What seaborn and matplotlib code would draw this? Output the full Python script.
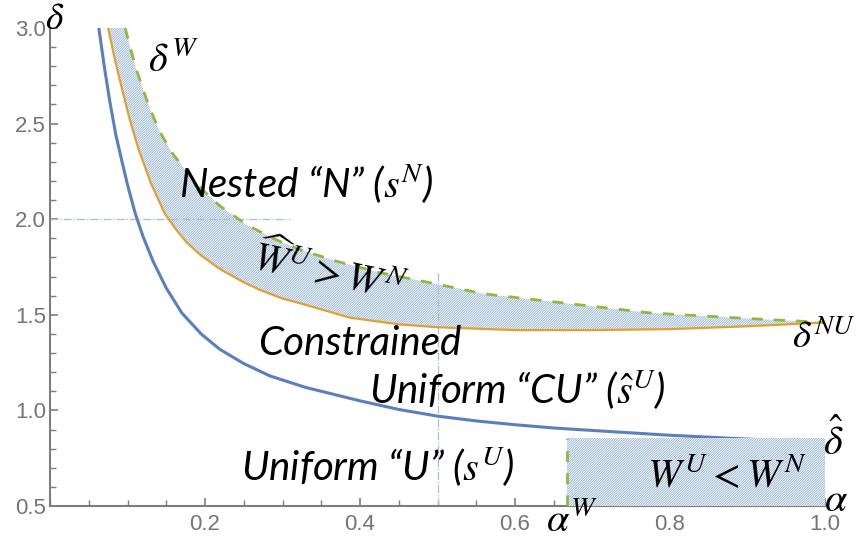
import numpy as np
import pandas as pd
import matplotlib
matplotlib.use("Agg")
import matplotlib.pyplot as plt
import seaborn as sns
from matplotlib.ticker import MultipleLocator, FixedFormatter

# ---------------- data ----------------
blue_alpha = [0.063, 0.070, 0.077, 0.085, 0.093, 0.100, 0.110, 0.120, 0.133, 0.150, 0.170,
              0.195, 0.219, 0.25, 0.284, 0.33, 0.40, 0.45, 0.50, 0.55, 0.60, 0.65, 0.70,
              0.80, 0.90, 1.00]
blue_delta = [3.00, 2.80, 2.62, 2.44, 2.30, 2.18, 2.03, 1.91, 1.78, 1.64, 1.51,
              1.40, 1.32, 1.245, 1.18, 1.12, 1.05, 1.005, 0.97, 0.945, 0.925, 0.908, 0.895,
              0.87, 0.85, 0.83]

orange_alpha = [0.075, 0.084, 0.093, 0.103, 0.114, 0.130, 0.148, 0.162, 0.176, 0.195, 0.219,
                0.25, 0.271, 0.30, 0.323, 0.387, 0.45, 0.50, 0.60, 0.70, 0.80, 0.90, 1.00]
orange_delta = [3.00, 2.83, 2.68, 2.52, 2.37, 2.19, 2.03, 1.95, 1.88, 1.81, 1.74,
                1.67, 1.63, 1.585, 1.56, 1.485, 1.45, 1.435, 1.42, 1.42, 1.425, 1.44, 1.46]

green_alpha = [0.097, 0.110, 0.126, 0.140, 0.157, 0.174, 0.195, 0.219, 0.254, 0.293, 0.323,
               0.37, 0.426, 0.50, 0.559, 0.645, 0.774, 0.903, 1.00]
green_delta = [3.00, 2.80, 2.61, 2.47, 2.35, 2.26, 2.16, 2.07, 1.97, 1.89, 1.84,
               1.78, 1.72, 1.66, 1.61, 1.57, 1.51, 1.48, 1.46]

alpha_W = 0.667          # vertical boundary alpha^W
delta_hat = 0.855        # top of the W^U < W^N region
guide_h = {"delta": 2.0, "alpha_from": 0.0, "alpha_to": 0.31}
guide_v = {"alpha": 0.5, "delta_from": 0.5, "delta_to": 1.72}

x_ticks = [0.2, 0.4, 0.6, 0.8, 1.0]
y_ticks = [0.5, 1.0, 1.5, 2.0, 2.5, 3.0]
x_tick_labels = ["0.2", "0.4", "0.6", "0.8", "1.0"]
y_tick_labels = ["0.5", "1.0", "1.5", "2.0", "2.5", "3.0"]

# ---------------- style ----------------
sns.set_theme(style="white")
plt.rcParams["font.family"] = ["Lato", "DejaVu Sans"]
plt.rcParams["mathtext.fontset"] = "stix"
plt.rcParams["hatch.linewidth"] = 0.6
plt.rcParams["xtick.labelsize"] = 16
plt.rcParams["ytick.labelsize"] = 16

BLUE = "#5b7fbd"
ORANGE = "#e3a030"
GREEN = "#93b83c"
HATCH = "#93b2d4"
GUIDE = "#a9bcdb"
AXC = "#7d7d7d"
TICKC = "#74747f"

fig = plt.figure(figsize=(8.59, 5.42), dpi=100)
ax = fig.add_axes([50 / 859, 36 / 542, 775 / 859, 478 / 542])

# hatched region between orange and green curves
poly_x = np.concatenate([orange_alpha, green_alpha[::-1]])
poly_y = np.concatenate([orange_delta, green_delta[::-1]])
ax.fill(poly_x, poly_y, facecolor="white", edgecolor=HATCH, hatch="/" * 14,
        linewidth=0, zorder=1)

# guide dash-dot lines
ax.plot([guide_h["alpha_from"], guide_h["alpha_to"]], [guide_h["delta"]] * 2,
        color=GUIDE, lw=0.9, ls="-.", zorder=1.5)
ax.plot([guide_v["alpha"]] * 2, [guide_v["delta_from"], guide_v["delta_to"]],
        color=GUIDE, lw=0.9, ls="-.", zorder=1.5)

# curves
sns.lineplot(x=blue_alpha, y=blue_delta, ax=ax, color=BLUE, lw=2.2, zorder=3)
sns.lineplot(x=orange_alpha, y=orange_delta, ax=ax, color=ORANGE, lw=1.6, zorder=3)
sns.lineplot(x=green_alpha, y=green_delta, ax=ax, color=GREEN, lw=2.0,
             linestyle=(0, (4, 4)), zorder=3)

# hatched rectangle W^U < W^N
ax.fill_between([alpha_W, 1.0], 0.5, delta_hat, facecolor="white", edgecolor=HATCH,
                hatch="/" * 14, linewidth=0, zorder=4)
ax.plot([alpha_W, alpha_W], [0.5, delta_hat], color=GREEN, lw=2.0,
        ls=(0, (4, 4)), zorder=5)

# axes
ax.set_xlim(0, 1.0)
ax.set_ylim(0.5, 3.0)
ax.set_xticks(x_ticks)
ax.set_yticks(y_ticks)
ax.xaxis.set_major_formatter(FixedFormatter(x_tick_labels))
ax.yaxis.set_major_formatter(FixedFormatter(y_tick_labels))
ax.xaxis.set_minor_locator(MultipleLocator(0.05))
ax.yaxis.set_minor_locator(MultipleLocator(0.1))
for s in ["top", "right"]:
    ax.spines[s].set_visible(False)
for s in ["left", "bottom"]:
    ax.spines[s].set_color(AXC)
    ax.spines[s].set_linewidth(1.5)
ax.tick_params(which="major", direction="in", length=6, width=1.2, color=AXC,
               labelsize=16, labelcolor=TICKC, left=True, bottom=True)
ax.tick_params(which="minor", direction="in", length=4, width=1.0, color=AXC,
               left=True, bottom=True)
ax.tick_params(axis="x", pad=6)
ax.tick_params(axis="y", pad=3)
for lbl in ax.get_xticklabels() + ax.get_yticklabels():
    lbl.set_fontfamily("Liberation Sans")
    lbl.set_fontsize(16)
ax.set_xlabel("")
ax.set_ylabel("")

# annotations
FS = 29
kw = dict(style="italic", color="black", clip_on=False, zorder=6)
ax.text(-0.007, 3.05, r"$\delta$", fontsize=27, ha="left", va="center", **kw)
ax.text(0.127, 2.83, r"$\delta^W$", fontsize=FS, ha="left", va="center", **kw)
ax.text(0.166, 2.18, "Nested “N” ($s^N$)", fontsize=FS, ha="left", va="center", **kw)
ax.text(0.362, 1.73, r"$\widehat{W}^U > W^N$", fontsize=FS, ha="center", va="center",
        rotation=-12, **kw)
ax.text(0.269, 1.35, "Constrained", fontsize=FS, ha="left", va="center", **kw)
ax.text(0.411, 1.107, "Uniform “CU” ($\\hat{s}^U$)", fontsize=FS, ha="left", va="center", **kw)
ax.text(0.247, 0.704, "Uniform “U” ($s^U$)", fontsize=FS, ha="left", va="center", **kw)
ax.text(0.770, 0.66, r"$W^U < W^N$", fontsize=FS, ha="left", va="center", **kw)
ax.text(0.957, 1.38, r"$\delta^{NU}$", fontsize=28, ha="left", va="center", **kw)
ax.text(0.997, 0.845, r"$\hat{\delta}$", fontsize=FS, ha="left", va="center", **kw)
ax.text(0.999, 0.535, r"$\alpha$", fontsize=FS, ha="left", va="center", **kw)
ax.text(0.640, 0.427, r"$\alpha^W$", fontsize=FS, ha="left", va="center", **kw)

fig.savefig("out.png", dpi=100)
